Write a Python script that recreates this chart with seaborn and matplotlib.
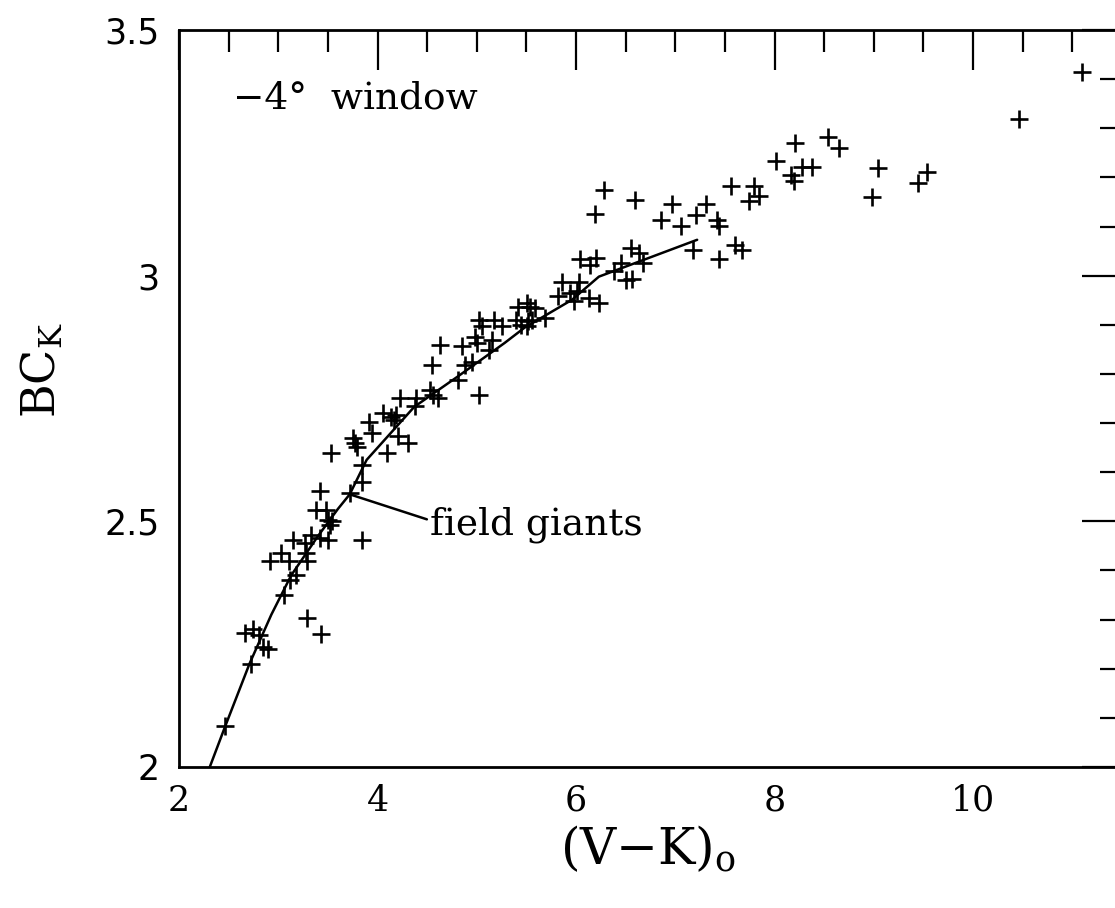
import numpy as np
import pandas as pd
import matplotlib
matplotlib.use("Agg")
import matplotlib.pyplot as plt
import seaborn as sns
from matplotlib.ticker import MultipleLocator, FixedLocator, FuncFormatter

# ---------------- data ----------------
vk = [2.46, 2.73, 2.66, 2.75, 2.81, 2.85, 2.90, 3.29, 3.43, 3.06,
      3.12, 3.18, 2.92, 3.03, 3.11, 3.28, 3.29, 3.15, 3.27, 3.33,
      3.42, 3.50, 3.38, 3.48, 3.50, 3.54, 3.52, 3.84, 3.42, 3.72,
      3.84, 3.84, 3.53, 3.75, 3.77, 3.79, 3.91, 3.94, 4.10, 4.21,
      4.31, 4.06, 4.14, 4.19, 4.17, 4.23, 4.39, 4.38, 4.53, 4.56,
      4.61, 4.55, 4.63, 4.85, 4.81, 4.88, 4.95, 5.02, 4.98, 5.00,
      5.12, 5.15, 5.02, 5.05, 5.17, 5.25, 5.42, 5.51, 5.54, 5.59,
      5.40, 5.45, 5.52, 5.56, 5.51, 5.69, 5.86, 6.03, 5.82, 5.94,
      5.98, 6.01, 6.13, 6.23, 6.04, 6.14, 6.20, 6.38, 6.45, 6.50,
      6.55, 6.63, 6.28, 6.59, 6.97, 6.86, 7.06, 7.31, 7.21, 7.42,
      7.44, 7.18, 7.44, 7.60, 7.67, 7.56, 7.79, 7.74, 7.84, 8.01,
      8.17, 8.20, 8.21, 8.54, 8.65, 8.28, 8.38, 9.04, 8.98, 9.54,
      9.44, 10.46, 11.10, 6.67, 6.56, 6.19]
bck = [2.084, 2.210, 2.272, 2.280, 2.268, 2.245, 2.240, 2.303, 2.271, 2.350,
       2.381, 2.391, 2.420, 2.435, 2.420, 2.436, 2.420, 2.462, 2.456, 2.472,
       2.466, 2.462, 2.523, 2.523, 2.503, 2.500, 2.493, 2.461, 2.561, 2.557,
       2.581, 2.615, 2.640, 2.669, 2.659, 2.652, 2.703, 2.680, 2.640, 2.673,
       2.659, 2.720, 2.713, 2.717, 2.707, 2.751, 2.751, 2.734, 2.768, 2.758,
       2.751, 2.819, 2.859, 2.856, 2.788, 2.819, 2.825, 2.758, 2.876, 2.863,
       2.849, 2.870, 2.910, 2.897, 2.910, 2.897, 2.937, 2.944, 2.937, 2.934,
       2.910, 2.900, 2.907, 2.910, 2.897, 2.914, 2.988, 2.988, 2.958, 2.965,
       2.948, 2.968, 2.955, 2.944, 3.033, 3.022, 3.036, 3.009, 3.026, 2.992,
       3.056, 3.046, 3.175, 3.155, 3.145, 3.114, 3.102, 3.145, 3.124, 3.114,
       3.102, 3.053, 3.033, 3.063, 3.053, 3.183, 3.183, 3.151, 3.163, 3.233,
       3.205, 3.192, 3.271, 3.282, 3.260, 3.221, 3.221, 3.219, 3.160, 3.210,
       3.189, 3.318, 3.415, 3.026, 2.993, 3.126]

curve_vk = [2.31, 2.46, 2.71, 2.93, 3.13, 3.40, 3.60, 3.72, 3.89,
            4.37, 4.81, 5.28, 5.48, 5.96, 6.23, 7.22]
curve_bc = [2.000, 2.080, 2.210, 2.310, 2.390, 2.470, 2.525, 2.555, 2.625,
            2.733, 2.795, 2.863, 2.894, 2.951, 2.998, 3.073]

x_major = [2, 4, 6, 8, 10]
y_major = [2.0, 2.5, 3.0, 3.5]

stars = pd.DataFrame({"vk": vk, "bck": bck})
curve = pd.DataFrame({"vk": curve_vk, "bck": curve_bc})

# ---------------- style ----------------
sns.set_theme(style="white")
plt.rcParams["font.family"] = ["DejaVu Serif"]
plt.rcParams["mathtext.fontset"] = "dejavuserif"
plt.rcParams["text.color"] = "black"
plt.rcParams["axes.labelcolor"] = "black"
plt.rcParams["xtick.color"] = "black"
plt.rcParams["ytick.color"] = "black"

fig = plt.figure(figsize=(11.15, 9.08), dpi=100)
ax = fig.add_axes([179 / 1115, 141 / 908, 943 / 1115, 737 / 908])

sns.scatterplot(data=stars, x="vk", y="bck", marker="+", s=150,
                color="black", linewidth=1.9, ax=ax, legend=False)
sns.lineplot(data=curve, x="vk", y="bck", sort=False, color="black",
             linewidth=1.8, ax=ax, legend=False)

ax.set_xlim(2, 11.5)
ax.set_ylim(2, 3.5)

ax.xaxis.set_major_locator(FixedLocator(x_major))
ax.xaxis.set_minor_locator(MultipleLocator(0.5))
ax.yaxis.set_major_locator(FixedLocator(y_major))
ax.yaxis.set_minor_locator(MultipleLocator(0.1))
ax.yaxis.set_major_formatter(FuncFormatter(lambda v, p: f"{v:g}"))

ax.tick_params(which="both", direction="in", top=True, right=True,
               width=1.6, color="black", labelcolor="black")
ax.tick_params(which="major", length=29, labelsize=25)
ax.tick_params(which="minor", length=16)
ax.tick_params(axis="x", which="major", pad=12)
ax.tick_params(axis="y", which="major", pad=14)
for lab in ax.get_yticklabels():
    lab.set_fontfamily("DejaVu Sans")

for sp in ax.spines.values():
    sp.set_linewidth(2)
    sp.set_color("black")

ax.set_xlabel(r"(V$-$K)$_\mathrm{o}$", fontsize=36, va="center", color="black")
ax.xaxis.set_label_coords(0.497, -0.113)
ax.set_ylabel(r"BC$_\mathrm{K}$", fontsize=33, va="center", color="black")
ax.yaxis.set_label_coords(-0.145, 0.539)

ax.text(2.54, 3.36, "\u22124\u00b0  window", fontsize=27, ha="left",
        va="center", color="black")

ax.annotate("field giants", xy=(3.72, 2.555), xytext=(4.53, 2.493),
            fontsize=27, ha="left", va="center", color="black",
            arrowprops=dict(arrowstyle="-", lw=1.8, color="black",
                            shrinkA=0, shrinkB=0, relpos=(0, 0.62)))

fig.savefig("out.png", dpi=100)
